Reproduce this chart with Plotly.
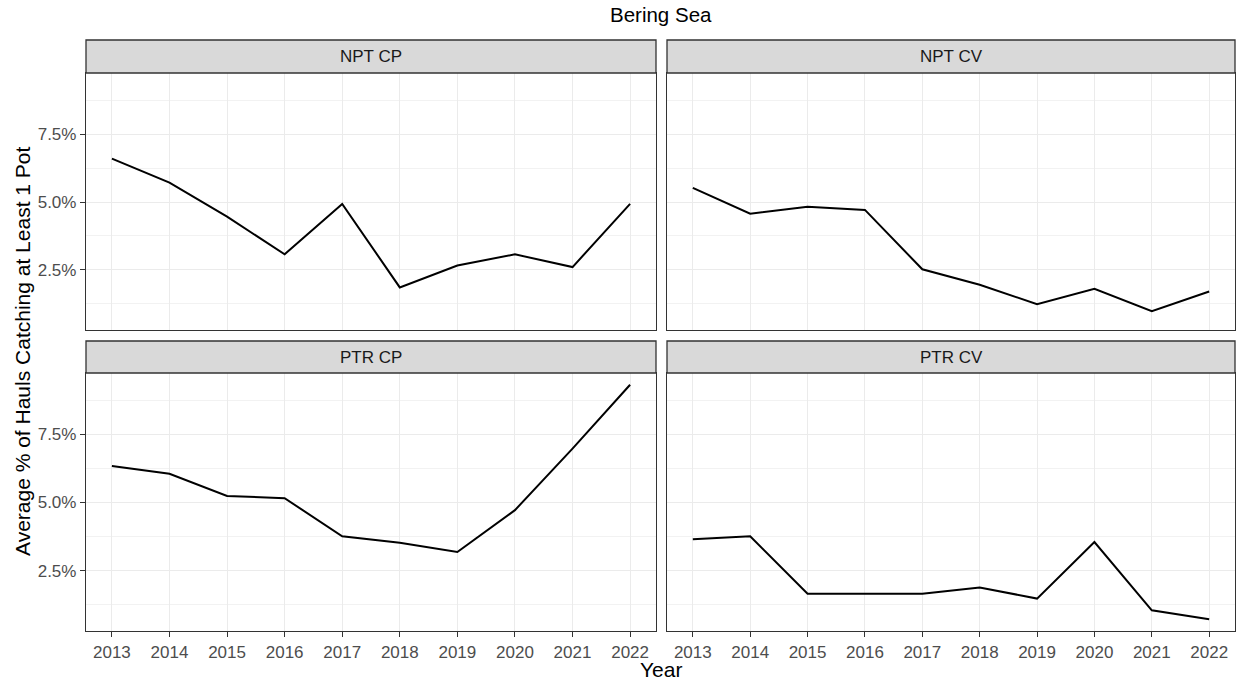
import plotly.graph_objects as go

# Bering Sea: average % of hauls catching at least 1 pot, by sector
years = [2013, 2014, 2015, 2016, 2017, 2018, 2019, 2020, 2021, 2022]
npt_cp = [6.60, 5.72, 4.46, 3.07, 4.93, 1.85, 2.66, 3.07, 2.60, 4.93]
npt_cv = [5.52, 4.57, 4.83, 4.71, 2.52, 1.95, 1.23, 1.80, 0.97, 1.70]
ptr_cp = [6.34, 6.06, 5.24, 5.16, 3.76, 3.52, 3.18, 4.72, 6.98, 9.33]
ptr_cv = [3.65, 3.76, 1.65, 1.65, 1.65, 1.88, 1.47, 3.55, 1.04, 0.71]
panel_names = ["NPT CP", "NPT CV", "PTR CP", "PTR CV"]
y_ticks = [2.5, 5.0, 7.5]

W, H = 1238, 683
FONT = "Liberation Sans, Arial, sans-serif"
BORDER = "#333333"
GRID = "#ebebeb"


def px_x(p):
    return p / W


def px_y(p):
    return 1 - p / H


# panel geometry (pixels)
cols = [(86, 656), (667, 1235)]
rows = [(40, 73, 330), (341, 373, 631)]  # strip top, plot top, plot bottom

all_vals = npt_cp + npt_cv + ptr_cp + ptr_cv
lo, hi = min(all_vals), max(all_vals)
pad = 0.05 * (hi - lo)
y_range = [lo - pad, hi + pad]
x_pad = 0.05 * (max(years) - min(years))
x_range = [min(years) - x_pad, max(years) + x_pad]

series = [npt_cp, npt_cv, ptr_cp, ptr_cv]

fig = go.Figure()
shapes = []
annotations = []
layout_axes = {}

for i, (name, vals) in enumerate(zip(panel_names, series)):
    r, c = divmod(i, 2)
    x0, x1 = cols[c]
    s_top, p_top, p_bot = rows[r]
    n = i + 1
    xa = "x" if n == 1 else f"x{n}"
    ya = "y" if n == 1 else f"y{n}"
    xkey = "xaxis" if n == 1 else f"xaxis{n}"
    ykey = "yaxis" if n == 1 else f"yaxis{n}"

    fig.add_trace(go.Scatter(
        x=years, y=vals, mode="lines", xaxis=xa, yaxis=ya,
        line=dict(color="black", width=2), showlegend=False,
        hoverinfo="x+y",
    ))

    bottom = r == 1
    left = c == 0
    layout_axes[xkey] = dict(
        domain=[px_x(x0), px_x(x1)], anchor=ya, range=x_range,
        tickmode="array", tickvals=years, ticktext=[str(y) for y in years],
        showticklabels=bottom, ticks="outside" if bottom else "",
        ticklen=5, tickwidth=1.3, tickcolor=BORDER,
        tickfont=dict(family=FONT, size=17, color="#4d4d4d"),
        showgrid=True, gridcolor=GRID, gridwidth=1.2, zeroline=False,
        showline=True, mirror=True, linecolor=BORDER, linewidth=1.3,
    )
    layout_axes[ykey] = dict(
        domain=[px_y(p_bot), px_y(p_top)], anchor=xa, range=y_range,
        tickmode="array", tickvals=y_ticks,
        ticktext=[f"{v:.1f}%" for v in y_ticks],
        showticklabels=left, ticks="outside" if left else "",
        ticklen=5, tickwidth=1.3, tickcolor=BORDER,
        tickfont=dict(family=FONT, size=17, color="#4d4d4d"),
        showgrid=True, gridcolor=GRID, gridwidth=1.2, zeroline=False,
        minor=dict(tickmode="linear", tick0=0, dtick=1.25, showgrid=True,
                   gridcolor="#f2f2f2", gridwidth=0.8, ticks=""),
        showline=True, mirror=True, linecolor=BORDER, linewidth=1.3,
    )

    # facet strip
    shapes.append(dict(
        type="rect", xref="paper", yref="paper",
        x0=px_x(x0), x1=px_x(x1), y0=px_y(p_top), y1=px_y(s_top),
        fillcolor="#d9d9d9", line=dict(color=BORDER, width=1.3), layer="above",
    ))
    annotations.append(dict(
        text=name, xref="paper", yref="paper",
        x=px_x((x0 + x1) / 2), y=px_y((s_top + p_top) / 2),
        xanchor="center", yanchor="middle", showarrow=False,
        font=dict(family=FONT, size=17, color="#1a1a1a"),
    ))

annotations += [
    dict(text="Bering Sea", xref="paper", yref="paper",
         x=px_x(660.5), y=px_y(15), xanchor="center", yanchor="middle",
         showarrow=False, font=dict(family=FONT, size=20.5, color="black")),
    dict(text="Year", xref="paper", yref="paper",
         x=px_x(660.5), y=px_y(669), xanchor="center", yanchor="middle",
         showarrow=False, font=dict(family=FONT, size=21, color="black")),
    dict(text="Average % of Hauls Catching at Least 1 Pot", xref="paper",
         yref="paper", x=px_x(22), y=px_y(351), xanchor="center",
         yanchor="middle", textangle=-90, showarrow=False,
         font=dict(family=FONT, size=21, color="black")),
]

fig.update_layout(
    width=W, height=H, margin=dict(l=0, r=0, t=0, b=0),
    paper_bgcolor="white", plot_bgcolor="white",
    shapes=shapes, annotations=annotations, **layout_axes,
)

fig.write_html("out.html")
